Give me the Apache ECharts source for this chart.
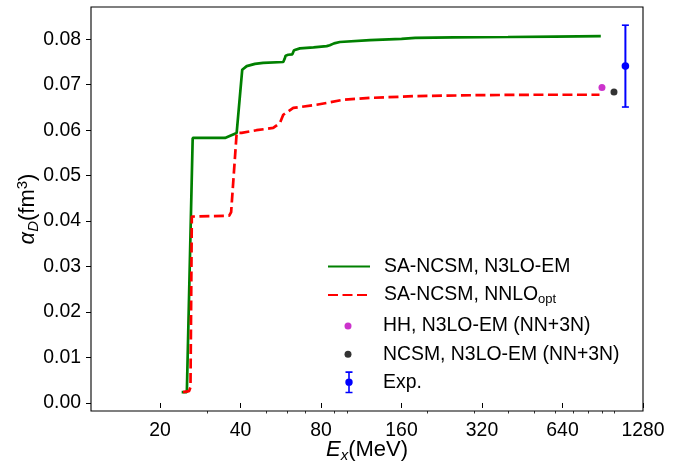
<!DOCTYPE html>
<html>
<head>
<meta charset="utf-8">
<script src="https://cdn.jsdelivr.net/npm/echarts@6/dist/echarts.min.js"></script>
<style>
  html, body { margin: 0; padding: 0; background: #fff; }
  #chart { width: 698px; height: 466px; }
</style>
</head>
<body>
<div id="chart"></div>
<script>
// Dipole polarizability running sum vs. excitation energy cutoff

// SA-NCSM with N3LO-EM interaction
const saN3loE     = [24.1, 25.2, 25.6, 26.5, 35.0, 38.7, 40.6, 42.2, 45.3, 48.6, 57.8, 58.5, 59.0, 60.3, 62.5, 63.4, 66.7, 75.0, 84.0, 86.3, 89.5, 94.1, 122, 160, 180, 250, 400, 600, 890];
const saN3loAlpha = [0.0024, 0.0024, 0.0026, 0.0583, 0.0583, 0.0594, 0.0733, 0.0741, 0.0746, 0.0748, 0.0750, 0.0757, 0.0764, 0.0766, 0.0767, 0.0776, 0.0780, 0.0782, 0.0785, 0.0787, 0.0791, 0.0794, 0.0798, 0.0801, 0.0803, 0.0804, 0.0805, 0.0806, 0.0807];

// SA-NCSM with NNLO_opt interaction
const saNnloE     = [24.4, 25.7, 26.0, 26.3, 36.3, 36.9, 38.7, 40.4, 45.9, 53.0, 56.2, 57.8, 63.0, 77.0, 83.9, 96.9, 122, 180, 300, 500, 880];
const saNnloAlpha = [0.0024, 0.0026, 0.0035, 0.0410, 0.0412, 0.0420, 0.0594, 0.0594, 0.0600, 0.0605, 0.0616, 0.0634, 0.0649, 0.0656, 0.0660, 0.0667, 0.0671, 0.0675, 0.0677, 0.0678, 0.0678];

// Single-value results and experiment
const hhPoint   = [899, 0.0694];
const ncsmPoint = [997, 0.0684];
const expPoint  = [1100, 0.0741, 0.0090]; // energy, value, uncertainty

// Axis ticks
const xMajorTicks = [20, 40, 80, 160, 320, 640, 1280];
const xMinorTicks = [30, 50, 60, 70, 90, 100, 200, 300, 400, 500, 600, 700, 800, 900, 1000];
const yTicks = [0, 0.01, 0.02, 0.03, 0.04, 0.05, 0.06, 0.07, 0.08];

const FONT = "'Liberation Sans', Arial, sans-serif";
const FS = 19.4;
const NAME_FS = 22;
const NAME_SUB = 15;

function zip(xs, ys) { return xs.map((x, i) => [x, ys[i]]); }

const chart = echarts.init(document.getElementById('chart'), null, { renderer: 'canvas' });

const legendBase = {
  orient: 'vertical',
  left: 327,
  padding: 0,
  itemWidth: 42,
  itemHeight: 7,
  selectedMode: false,
  textStyle: {
    fontFamily: FONT, fontSize: FS, color: '#000', lineHeight: 22,
    padding: [0, 0, 0, 9],
    rich: {
      sub: { fontFamily: FONT, fontSize: 13, color: '#000', verticalAlign: 'bottom', lineHeight: 12 }
    }
  }
};

// legend glyphs: small centred dot, and dot with error bar
const dotIcon = 'path://M0,0 M42,7 M24.5,3.5 A3.5,3.5 0 1 1 17.5,3.5 A3.5,3.5 0 1 1 24.5,3.5z';
const errIcon = 'path://M0,0 M42,22 M18.5,0 h7 v1.6 h-7z M21.2,0 h1.6 v22 h-1.6z M18.5,20.4 h7 v1.6 h-7z M25.7,11 A3.7,3.7 0 1 1 18.3,11 A3.7,3.7 0 1 1 25.7,11z';
const noSymbol = { color: 'transparent', borderWidth: 0, opacity: 0 };

const option = {
  animation: false,
  backgroundColor: '#fff',
  grid: {
    left: 91, right: 55, top: 7, bottom: 55,
    outerBoundsMode: 'none', containLabel: false,
    show: true, borderColor: '#000', borderWidth: 1.1, backgroundColor: 'transparent'
  },
  xAxis: [
    {
      type: 'log', logBase: 10, min: 11.04, max: 1280,
      position: 'bottom',
      name: '{i|E}{s|x}(MeV)',
      nameLocation: 'middle', nameGap: 26, nameMoveOverlap: false,
      nameTextStyle: {
        fontFamily: FONT, fontSize: NAME_FS, color: '#000', lineHeight: 26,
        rich: {
          i: { fontFamily: FONT, fontSize: NAME_FS, fontStyle: 'italic', color: '#000', lineHeight: 26 },
          s: { fontFamily: FONT, fontSize: NAME_SUB, fontStyle: 'italic', color: '#000', verticalAlign: 'bottom', lineHeight: 11 }
        }
      },
      axisLine: { show: false },
      axisTick: { show: true, length: 5, inside: false, lineStyle: { color: '#000', width: 1 }, customValues: xMajorTicks },
      axisLabel: { show: true, margin: 10, fontFamily: FONT, fontSize: FS, color: '#000', customValues: xMajorTicks, formatter: v => String(Math.round(v)) },
      splitLine: { show: false },
      minorTick: { show: false }
    },
    {
      type: 'log', logBase: 10, min: 11.04, max: 1280,
      position: 'bottom',
      axisLine: { show: false },
      axisTick: { show: true, length: 2.5, inside: false, lineStyle: { color: '#000', width: 0.8 }, customValues: xMinorTicks },
      axisLabel: { show: false },
      splitLine: { show: false }
    }
  ],
  yAxis: {
    type: 'value', min: -0.00176, max: 0.0871,
    name: '{i|α}{s|D}(fm{p|3})',
    nameLocation: 'middle', nameGap: 50, nameMoveOverlap: false,
    nameTextStyle: {
      fontFamily: FONT, fontSize: NAME_FS, color: '#000', lineHeight: 26,
      rich: {
        i: { fontFamily: FONT, fontSize: NAME_FS, fontStyle: 'italic', color: '#000', lineHeight: 26 },
        s: { fontFamily: FONT, fontSize: NAME_SUB, fontStyle: 'italic', color: '#000', verticalAlign: 'bottom', lineHeight: 11 },
        p: { fontFamily: FONT, fontSize: NAME_SUB, color: '#000', verticalAlign: 'top', lineHeight: 11 }
      }
    },
    axisLine: { show: false },
    axisTick: { show: true, length: 5, inside: false, lineStyle: { color: '#000', width: 1 }, customValues: yTicks },
    axisLabel: { show: true, margin: 10, fontFamily: FONT, fontSize: FS, color: '#000', customValues: yTicks, formatter: v => v.toFixed(2) },
    splitLine: { show: false }
  },
  legend: [
    Object.assign({}, legendBase, { top: 266.5 - 11, itemStyle: noSymbol, data: ['SA-NCSM, N3LO-EM'] }),
    Object.assign({}, legendBase, { top: 295 - 11, itemStyle: noSymbol, data: ['SA-NCSM, NNLO_opt'],
      formatter: () => 'SA-NCSM, NNLO{sub|opt}' }),
    Object.assign({}, legendBase, { top: 326 - 11, data: [{ name: 'HH, N3LO-EM (NN+3N)', icon: dotIcon }] }),
    Object.assign({}, legendBase, { top: 354.3 - 11, data: [{ name: 'NCSM, N3LO-EM (NN+3N)', icon: dotIcon }] }),
    Object.assign({}, legendBase, { top: 382.3 - 11, itemHeight: 22, data: [{ name: 'Exp.', icon: errIcon }] })
  ],
  series: [
    {
      name: 'SA-NCSM, N3LO-EM', type: 'line', xAxisIndex: 0,
      data: zip(saN3loE, saN3loAlpha),
      symbol: 'none', showSymbol: false, color: '#008000',
      lineStyle: { color: '#008000', width: 2.7 }
    },
    {
      name: 'SA-NCSM, NNLO_opt', type: 'line', xAxisIndex: 0,
      data: zip(saNnloE, saNnloAlpha),
      symbol: 'none', showSymbol: false, color: '#ff0000',
      lineStyle: { color: '#ff0000', width: 2.7, type: [10, 4.5] }
    },
    {
      name: 'HH, N3LO-EM (NN+3N)', type: 'scatter', xAxisIndex: 0,
      data: [hhPoint], symbol: 'circle', symbolSize: 7,
      itemStyle: { color: '#bf00bf' }
    },
    {
      name: 'NCSM, N3LO-EM (NN+3N)', type: 'scatter', xAxisIndex: 0,
      data: [ncsmPoint], symbol: 'circle', symbolSize: 7,
      itemStyle: { color: '#000000' }
    },
    {
      name: 'Exp.', type: 'custom', xAxisIndex: 0,
      data: [expPoint],
      encode: { x: 0, y: 1 },
      itemStyle: { color: '#0000ff' },
      renderItem: function (params, api) {
        const x = api.value(0), y = api.value(1), e = api.value(2);
        const top = api.coord([x, y + e]);
        const bot = api.coord([x, y - e]);
        const mid = api.coord([x, y]);
        const c = '#0000ff';
        return {
          type: 'group',
          children: [
            { type: 'line', shape: { x1: top[0], y1: top[1], x2: bot[0], y2: bot[1] }, style: { stroke: c, lineWidth: 2 } },
            { type: 'line', shape: { x1: top[0] - 3.5, y1: top[1], x2: top[0] + 3.5, y2: top[1] }, style: { stroke: c, lineWidth: 1.6 } },
            { type: 'line', shape: { x1: bot[0] - 3.5, y1: bot[1], x2: bot[0] + 3.5, y2: bot[1] }, style: { stroke: c, lineWidth: 1.6 } },
            { type: 'circle', shape: { cx: mid[0], cy: mid[1], r: 3.8 }, style: { fill: c } }
          ]
        };
      }
    }
  ]
};

chart.setOption(option);
</script>
</body>
</html>
